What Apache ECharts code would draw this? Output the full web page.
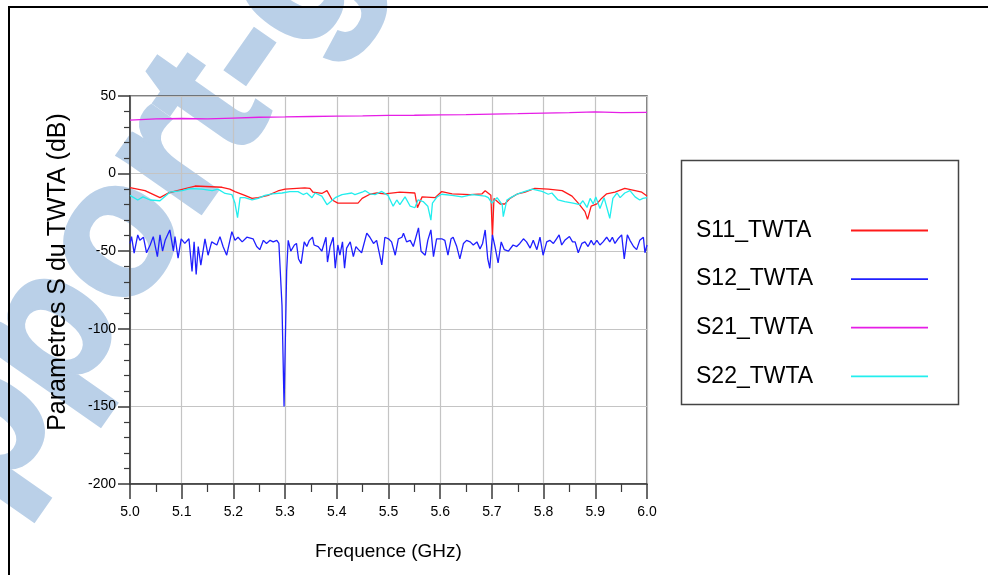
<!DOCTYPE html>
<html><head><meta charset="utf-8">
<script src="https://cdn.jsdelivr.net/npm/echarts@6/dist/echarts.min.js"></script>
<style>html,body{margin:0;padding:0;background:#fff}#c{width:988px;height:575px}</style>
</head><body><div id="c"></div><script>
// [frequency GHz, dB]
const s11 = [[5.000,-9],[5.029,-11],[5.058,-15.5],[5.074,-12.5],[5.103,-10],[5.126,-8],[5.178,-8.8],[5.193,-10],[5.203,-11.6],[5.222,-14],[5.236,-16],[5.248,-15.5],[5.267,-14],[5.286,-11.2],[5.300,-10],[5.338,-9.2],[5.348,-9.5],[5.354,-12],[5.371,-12.8],[5.381,-11],[5.391,-17],[5.402,-19],[5.441,-19],[5.449,-16],[5.464,-13.3],[5.478,-12.5],[5.493,-13],[5.522,-12],[5.551,-12.5],[5.556,-22],[5.565,-15],[5.590,-15.5],[5.603,-11.6],[5.623,-13],[5.658,-13.5],[5.681,-13],[5.687,-11],[5.698,-14],[5.701,-40.6],[5.704,-16],[5.716,-19.6],[5.725,-19.6],[5.735,-16],[5.750,-13],[5.764,-12],[5.783,-9.5],[5.809,-10],[5.836,-11],[5.855,-14.5],[5.867,-19],[5.880,-24.5],[5.885,-29.5],[5.892,-21],[5.903,-19.5],[5.912,-16],[5.922,-13],[5.938,-12],[5.957,-9.5],[5.977,-11],[5.990,-12],[6.000,-14.5]];
const s12 = [[5.000,-45],[5.003,-40.6],[5.008,-51.3],[5.015,-39.5],[5.019,-43],[5.026,-41],[5.032,-51],[5.039,-46],[5.045,-40.6],[5.053,-53.5],[5.058,-39.5],[5.063,-50],[5.068,-43],[5.077,-36.3],[5.084,-50],[5.087,-40.6],[5.093,-54.5],[5.099,-42],[5.106,-45],[5.114,-42],[5.120,-63],[5.124,-44],[5.128,-65],[5.132,-47],[5.137,-59],[5.145,-42],[5.151,-52.6],[5.158,-44],[5.168,-46],[5.174,-40.6],[5.180,-47],[5.187,-52.6],[5.197,-37.4],[5.203,-43],[5.209,-41],[5.217,-44],[5.226,-41],[5.238,-42],[5.245,-47],[5.251,-49],[5.258,-43],[5.264,-45],[5.271,-43],[5.277,-44],[5.284,-43],[5.288,-45],[5.294,-85],[5.298,-150],[5.303,-63],[5.306,-43],[5.311,-50],[5.318,-46],[5.322,-45],[5.326,-55],[5.331,-58],[5.337,-44],[5.342,-47],[5.347,-43],[5.353,-41],[5.356,-46],[5.364,-47],[5.371,-50],[5.379,-41],[5.382,-57],[5.387,-47],[5.393,-41],[5.397,-61],[5.402,-46],[5.406,-52.6],[5.411,-44],[5.415,-61],[5.419,-48],[5.426,-44],[5.432,-53.5],[5.437,-47],[5.442,-49],[5.448,-51],[5.458,-38.4],[5.464,-41],[5.471,-45],[5.477,-43],[5.487,-58.8],[5.493,-41],[5.500,-42],[5.506,-44],[5.513,-52.6],[5.519,-42],[5.526,-41],[5.529,-38.4],[5.535,-44],[5.542,-43],[5.548,-47],[5.558,-35],[5.563,-50],[5.571,-52.6],[5.576,-43],[5.582,-36.3],[5.587,-53.5],[5.593,-42],[5.603,-42],[5.609,-43],[5.615,-52.6],[5.621,-42],[5.625,-41],[5.632,-47],[5.638,-55],[5.645,-45],[5.651,-43],[5.658,-44],[5.664,-46],[5.671,-44],[5.677,-48.5],[5.682,-45],[5.687,-36.3],[5.692,-55],[5.696,-61],[5.701,-39.5],[5.706,-47],[5.712,-57.6],[5.718,-44],[5.724,-49],[5.732,-50],[5.741,-46],[5.748,-47],[5.754,-45],[5.761,-42],[5.767,-44],[5.774,-48],[5.780,-43],[5.787,-49],[5.793,-41],[5.799,-52.6],[5.806,-44],[5.812,-43],[5.819,-45],[5.825,-42],[5.830,-39.5],[5.835,-46],[5.841,-43],[5.850,-40.5],[5.856,-44],[5.861,-44],[5.867,-51],[5.874,-45],[5.880,-44],[5.886,-47],[5.892,-43],[5.897,-46],[5.903,-43],[5.909,-46],[5.915,-44],[5.922,-41],[5.928,-44],[5.933,-41],[5.938,-45],[5.944,-42],[5.951,-39.5],[5.956,-55],[5.962,-39.5],[5.967,-43],[5.974,-47],[5.980,-49],[5.986,-43],[5.993,-41],[5.996,-51],[6.000,-46]];
const s21 = [[5.00,34.5],[5.05,35.2],[5.10,35.5],[5.15,35.3],[5.20,35.8],[5.25,36.3],[5.30,36.5],[5.35,36.8],[5.40,37.0],[5.45,37.2],[5.50,37.5],[5.55,37.6],[5.60,37.8],[5.65,38.0],[5.70,38.3],[5.75,38.6],[5.80,39.0],[5.85,39.3],[5.90,39.8],[5.95,39.3],[6.00,39.4]];
const s22 = [[5.000,-14],[5.015,-17],[5.025,-15],[5.039,-17],[5.058,-17.5],[5.077,-12],[5.101,-11],[5.116,-9.6],[5.139,-10],[5.159,-11],[5.170,-10],[5.184,-12.8],[5.197,-13.5],[5.203,-19],[5.208,-28.4],[5.213,-15.5],[5.222,-15.5],[5.236,-17],[5.248,-16],[5.261,-14],[5.275,-13],[5.294,-12.5],[5.309,-11.6],[5.325,-11.6],[5.335,-13.5],[5.342,-12.5],[5.352,-15.5],[5.358,-12.5],[5.371,-14.5],[5.381,-20],[5.383,-21],[5.397,-15.5],[5.410,-13.5],[5.429,-12.5],[5.435,-13.5],[5.449,-12],[5.455,-11],[5.464,-13],[5.474,-13.5],[5.487,-11.5],[5.499,-14],[5.509,-21],[5.516,-17],[5.522,-20],[5.532,-15],[5.542,-21],[5.551,-22],[5.557,-17],[5.567,-18],[5.576,-21],[5.582,-30],[5.585,-19],[5.594,-15],[5.603,-13.3],[5.623,-14],[5.642,-15],[5.662,-13.5],[5.687,-14.5],[5.693,-15.5],[5.700,-19],[5.710,-15.5],[5.720,-20],[5.722,-27.7],[5.729,-17],[5.739,-15],[5.750,-13],[5.764,-11.5],[5.778,-10],[5.797,-11.5],[5.809,-13.3],[5.816,-12.5],[5.828,-17],[5.841,-18],[5.857,-19],[5.870,-20],[5.876,-17.5],[5.884,-21.8],[5.890,-16],[5.896,-19.5],[5.901,-15],[5.909,-22.5],[5.917,-15.5],[5.928,-28.8],[5.934,-16],[5.942,-12.5],[5.948,-15.5],[5.957,-12.5],[5.967,-11],[5.977,-15],[5.986,-17],[5.992,-16],[6.000,-15.5]];
const seriesNames = ['S11_TWTA','S12_TWTA','S21_TWTA','S22_TWTA'];
const seriesColors = ['#ff1a1a','#1f1fff','#e61ee6','#22eeee'];
const seriesData = [s11, s12, s21, s22];
const watermarkText = 'pport-gratuit';

const FONT = 'Liberation Sans, Arial, sans-serif';
const chart = echarts.init(document.getElementById('c'), null, {renderer:'canvas'});
const axisCol = '#3a3a3a';
chart.setOption({
  animation:false,
  backgroundColor:'#fff',
  textStyle:{fontFamily:FONT},
  grid:{left:130, right:341, top:96, bottom:91, show:true, borderColor:'#555', borderWidth:1.5},
  graphic:[
    {type:'text', x:-49, y:478, rotation:55*Math.PI/180, z:-10, silent:true,
     style:{text:watermarkText, font:'bold 190px "Liberation Sans"', fill:'#bad0e8', stroke:'#bad0e8', lineWidth:5, align:'left', verticalAlign:'middle'}},
    {type:'line', shape:{x1:8,y1:7,x2:988,y2:7}, style:{stroke:'#000',lineWidth:2}, z:100},
    {type:'line', shape:{x1:9,y1:7,x2:9,y2:575}, style:{stroke:'#000',lineWidth:2}, z:100},
    {type:'rect', shape:{x:681.5,y:160.5,width:277,height:244}, style:{fill:'#fff',stroke:'#444',lineWidth:1.5}, z:1}
  ],
  legend:{
    orient:'vertical', left:691, top:214, itemGap:25.6, itemWidth:77, itemHeight:14,
    align:'right',
    itemStyle:{opacity:0},
    lineStyle:{width:1.8},
    formatter:n=>'{a|'+n+'}',
    textStyle:{color:'#000', fontFamily:FONT,
      rich:{a:{width:150, align:'left', fontSize:23, lineHeight:24, color:'#000', fontFamily:FONT}}},
    data:seriesNames, z:10
  },
  xAxis:{
    type:'value', min:5.0, max:6.0, interval:0.1,
    name:'Frequence (GHz)', nameLocation:'middle', nameGap:58,
    nameTextStyle:{fontSize:19, color:'#000'},
    axisLine:{onZero:false, lineStyle:{color:axisCol, width:1.5}},
    axisTick:{show:true, length:15, lineStyle:{color:axisCol, width:1.5}},
    minorTick:{show:true, splitNumber:2, length:8, lineStyle:{color:axisCol, width:1.2}},
    axisLabel:{fontSize:14, color:'#000', margin:21, formatter:v=>v.toFixed(1)},
    splitLine:{show:true, lineStyle:{color:'#c4c4c4', width:1.2}}
  },
  yAxis:{
    type:'value', min:-200, max:50, interval:50,
    name:'Parametres S du TWTA (dB)', nameLocation:'middle', nameGap:59,
    nameTextStyle:{fontSize:25, color:'#000', padding:[0,0,0,36]},
    axisLine:{onZero:false, lineStyle:{color:axisCol, width:1.5}},
    axisTick:{show:true, length:12, lineStyle:{color:axisCol, width:1.5}},
    minorTick:{show:true, splitNumber:5, length:6, lineStyle:{color:axisCol, width:1.2}},
    axisLabel:{fontSize:14, color:'#000', margin:14},
    splitLine:{show:true, lineStyle:{color:'#c4c4c4', width:1.2}}
  },
  series:seriesData.map((d,i)=>({
    name:seriesNames[i], type:'line', data:d, showSymbol:false, symbol:'none',
    lineStyle:{color:seriesColors[i], width:1.3}, itemStyle:{color:seriesColors[i]}, z:5
  }))
});
</script></body></html>
